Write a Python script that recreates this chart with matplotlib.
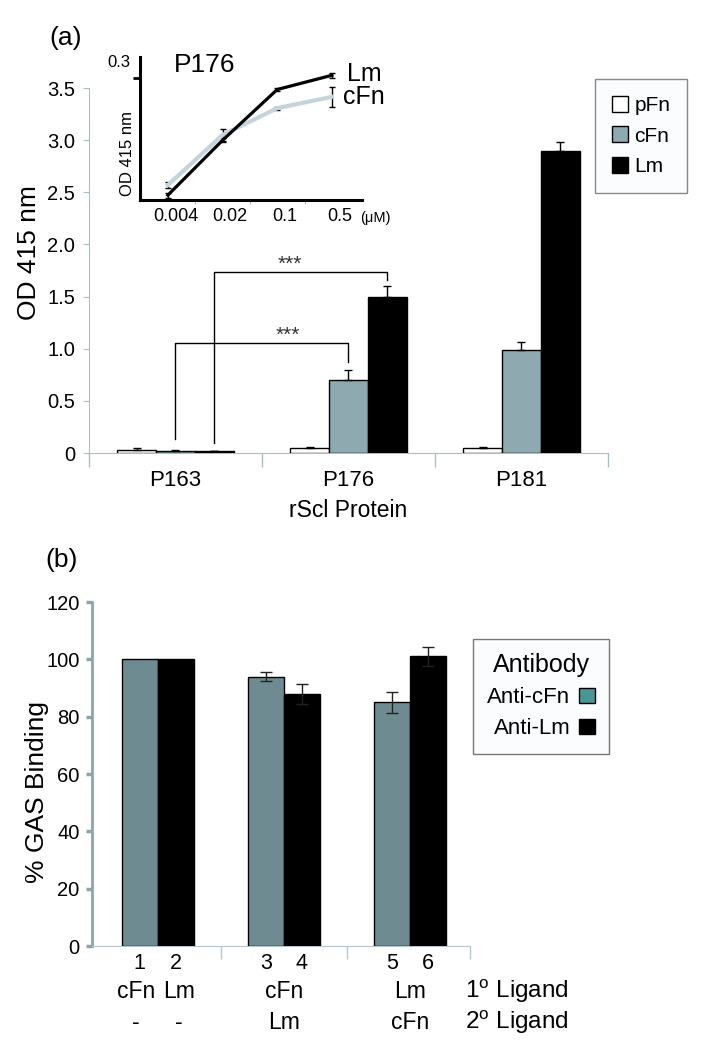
import numpy as np
import matplotlib
matplotlib.use('Agg')
import matplotlib.pyplot as plt
from matplotlib.patches import Patch
import matplotlib.transforms as mtransforms

plt.rcParams['font.family'] = ['Liberation Sans', 'DejaVu Sans']
plt.rcParams['mathtext.fontset'] = 'custom'
plt.rcParams['mathtext.rm'] = 'Liberation Sans'

# ---- panel (a): binding of rScl proteins
proteins = ['P163', 'P176', 'P181']
a_names = ['pFn', 'cFn', 'Lm']
a_vals = [[0.03, 0.05, 0.05],
          [0.02, 0.70, 0.99],
          [0.015, 1.50, 2.90]]
a_errs = [[0.015, 0.01, 0.01],
          [0.01, 0.10, 0.07],
          [0.005, 0.10, 0.08]]
a_colors = ['white', '#8fa9b0', 'black']
a_yticks = [0, 0.5, 1.0, 1.5, 2.0, 2.5, 3.0, 3.5]
a_yticklabels = ['0', '0.5', '1.0', '1.5', '2.0', '2.5', '3.0', '3.5']

# significance brackets: (series, left y, top y, right y, star x)
brackets = [(1, 0.13, 1.055, 0.87, 0.65),
            (2, 0.10, 1.735, 1.66, 0.66)]

# ---- inset: P176 dose response
conc = ['0.004', '0.02', '0.1', '0.5']
ins_lm = [0.012, 0.147, 0.272, 0.307]
ins_lm_err = [0.006, 0.005, 0.003, 0.006]
ins_cfn = [0.037, 0.160, 0.226, 0.254]
ins_cfn_err = [0.007, 0.015, 0.004, 0.025]

# ---- panel (b): % GAS binding
b_vals = [100, 100, 94, 88, 85, 101]
b_errs = [0, 0, 1.7, 3.5, 3.7, 3.3]
b_numbers = ['1', '2', '3', '4', '5', '6']
lig1 = [['cFn', 'Lm'], ['cFn'], ['Lm']]
lig2 = [['-', '-'], ['Lm'], ['cFn']]
b_colors = ['#6e8b91', 'black']
b_leg_colors = ['#4a9696', 'black']
b_leg_names = ['Anti-cFn', 'Anti-Lm']

W, H = 711, 1050
fig = plt.figure(figsize=(W / 100, H / 100), dpi=100)

# ===================== panel (a)
ax1 = fig.add_axes([89 / W, 1 - 453 / H, 519 / W, 365 / H])
x = np.arange(len(proteins))
w = 0.225
offs = [-w, 0, w]
for i in range(3):
    ax1.bar(x + offs[i], a_vals[i], w, color=a_colors[i], edgecolor='black', linewidth=1,
            yerr=[np.zeros(3), a_errs[i]], capsize=3,
            error_kw=dict(elinewidth=1, capthick=1, ecolor='black'), zorder=3)

for s, yl, yt, yr, sx in brackets:
    xl = x[0] + offs[s]
    xr = x[1] + offs[s]
    ax1.plot([xl, xl, xr, xr], [yl, yt, yt, yr], color='black', lw=1, zorder=4)
    ax1.text(sx, yt + 0.07, '***', ha='center', va='center', fontsize=15, color='#333333')

ax1.set_xlim(-0.5, 2.5)
ax1.set_ylim(0, 3.5)
ax1.set_yticks(a_yticks)
ax1.set_yticklabels(a_yticklabels, fontsize=14.5)
ax1.set_xticks(x)
ax1.set_xticklabels(proteins, fontsize=16)
ax1.set_xticks([-0.5, 0.5, 1.5, 2.5], minor=True)
ax1.tick_params(axis='x', which='major', length=0, pad=12)
ax1.tick_params(axis='x', which='minor', length=10, color='#a9bfc8', width=1)
ax1.tick_params(axis='y', length=4, color='#a9bfc8', pad=6)
for sp in ['top', 'right']:
    ax1.spines[sp].set_visible(False)
for sp in ['left', 'bottom']:
    ax1.spines[sp].set_color('#a9bfc8')
ax1.set_xlabel('rScl Protein', fontsize=16.5, labelpad=6)
fig.text(29 / W, 1 - 253 / H, 'OD 415 nm', rotation=90, ha='center', va='center', fontsize=19)
fig.text(66 / W, 1 - 38 / H, '(a)', ha='center', va='center', fontsize=19)

handles_a = [Patch(facecolor=c, edgecolor='black', linewidth=1) for c in a_colors]
fig.legend(handles_a, a_names, loc='upper left', bbox_to_anchor=(595 / W, 1 - 79 / H),
           frameon=True, fancybox=False, edgecolor='#888888', facecolor='#fbfcfd',
           framealpha=1, fontsize=15, handlelength=0.8, handleheight=0.8,
           handletextpad=0.3, labelspacing=0.55, borderpad=0.8, borderaxespad=0)

# ===================== inset
axi = fig.add_axes([140 / W, 1 - 200 / H, 222 / W, 143 / H])
axi.patch.set_alpha(0)
xi = np.arange(len(conc))
axi.errorbar(xi, ins_cfn, yerr=ins_cfn_err, color='#c5d4db', lw=3, ecolor='black',
             elinewidth=1, capsize=2)
axi.errorbar(xi, ins_lm, yerr=ins_lm_err, color='black', lw=2.3, ecolor='black',
             elinewidth=1, capsize=2)
axi.set_xlim(-0.51, 3.55)
axi.set_ylim(0, 0.352)
axi.set_yticks([0.3])
axi.set_yticklabels([])
axi.annotate('0.3', (0, 0.3), xycoords=('axes fraction', 'data'), xytext=(-15, 11.5),
             textcoords='offset points', ha='center', va='center', fontsize=12)
axi.set_xticks(xi + 0.14)
axi.set_xticklabels(conc, fontsize=13)
axi.set_xticks([0.5, 1.5, 2.5], minor=True)
axi.tick_params(axis='x', which='major', length=0, pad=6)
axi.tick_params(axis='x', which='minor', length=3, color='#999999')
axi.tick_params(axis='y', length=5, width=2, pad=2)
for sp in ['top', 'right']:
    axi.spines[sp].set_visible(False)
for sp in ['left', 'bottom']:
    axi.spines[sp].set_linewidth(2.2)
axi.text(0.29, 0.945, 'P176', transform=axi.transAxes, ha='center', va='center', fontsize=19)
axi.annotate('Lm', (xi[-1], ins_lm[-1]), xytext=(11, 1), textcoords='offset points',
             ha='left', va='center', fontsize=18)
axi.annotate('cFn', (xi[-1], ins_cfn[-1]), xytext=(8, 0), textcoords='offset points',
             ha='left', va='center', fontsize=18)
axi.text(1.06, -0.125, '(\u03bcM)', transform=axi.transAxes, ha='center', va='center',
         fontsize=10.5)
fig.text(127 / W, 1 - 153 / H, 'OD 415 nm', rotation=90, ha='center', va='center',
         fontsize=12)

# ===================== panel (b)
ax2 = fig.add_axes([92 / W, 1 - 946 / H, 378 / W, 344 / H])
g = np.arange(3)
bw = 0.285
bar_x = np.array([[gi - bw / 2, gi + bw / 2] for gi in g]).ravel()
for j in range(2):
    xs = bar_x[j::2]
    vs = b_vals[j::2]
    es = b_errs[j::2]
    ax2.bar(xs, vs, bw, color=b_colors[j], edgecolor='black', linewidth=1, zorder=3)
    for xx, vv, ee in zip(xs, vs, es):
        if ee > 0:
            ax2.errorbar(xx, vv, yerr=ee, color='#222222', elinewidth=1, capsize=4.5,
                         capthick=1, zorder=4)

ax2.set_xlim(-0.52, 2.475)
ax2.set_ylim(0, 120)
ax2.set_yticks(np.arange(0, 121, 20))
ax2.set_yticklabels([str(v) for v in range(0, 121, 20)], fontsize=14.5)
ax2.set_xticks(bar_x)
ax2.set_xticklabels(b_numbers, fontsize=15.5)
ax2.set_xticks([0.5, 1.5, 2.475], minor=True)
ax2.tick_params(axis='x', which='major', length=0, pad=5)
ax2.tick_params(axis='x', which='minor', length=9, color='#b5c7cb', width=1)
ax2.tick_params(axis='y', length=4, width=2.5, color='#8aa6ab', pad=5)
for sp in ['top', 'right']:
    ax2.spines[sp].set_visible(False)
ax2.spines['left'].set_color('#8aa6ab')
ax2.spines['left'].set_linewidth(2)
ax2.spines['bottom'].set_color('#b5c7cb')

trans = mtransforms.blended_transform_factory(ax2.transData, ax2.transAxes)
for gi in g:
    for row, labs in ((-0.131, lig1[gi]), (-0.221, lig2[gi])):
        if len(labs) == 2:
            xs = [gi - 0.17, gi + 0.17]
        else:
            xs = [gi]
        for xx, lab in zip(xs, labs):
            ax2.text(xx, row, lab, transform=trans, ha='center', va='center', fontsize=16.5)
ax2.text(2.436, -0.131, r'1$^{\mathrm{o}}$ Ligand', transform=trans, ha='left', va='center',
         fontsize=17.5)
ax2.text(2.436, -0.221, r'2$^{\mathrm{o}}$ Ligand', transform=trans, ha='left', va='center',
         fontsize=17.5)

fig.text(37 / W, 1 - 792 / H, '% GAS Binding', rotation=90, ha='center', va='center', fontsize=19)
fig.text(62 / W, 1 - 560 / H, '(b)', ha='center', va='center', fontsize=19)

handles_b = [Patch(facecolor=c, edgecolor='black', linewidth=1) for c in b_leg_colors]
ax2.legend(handles_b, b_leg_names, loc='upper left', bbox_to_anchor=(473 / W, 1 - 639 / H),
           bbox_transform=fig.transFigure, title='Antibody', title_fontsize=18,
           frameon=True, fancybox=False, edgecolor='#777777', facecolor='#fbfcfe',
           framealpha=1, fontsize=16, markerfirst=False, handlelength=0.7,
           handleheight=0.7, handletextpad=0.4, labelspacing=0.45, borderpad=0.65,
           borderaxespad=0)

fig.savefig('out.png', dpi=100)
